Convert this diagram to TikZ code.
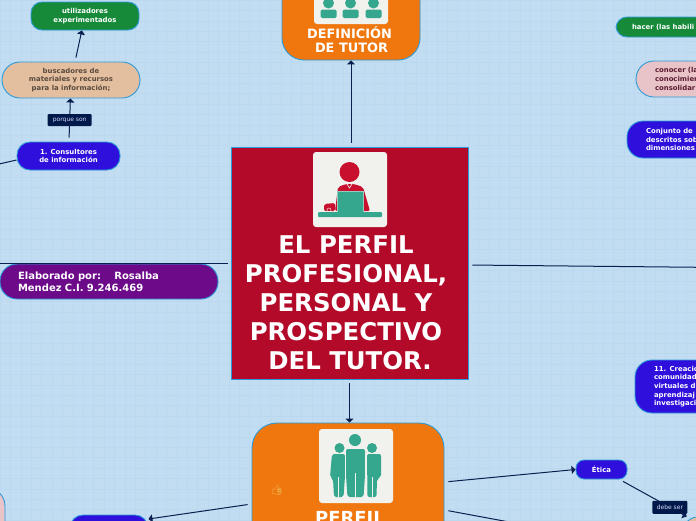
\documentclass[tikz,border=0pt]{standalone}
\usepackage{fontspec}
\setmainfont{DejaVu Sans}
\newfontfamily\emojifont{Noto Emoji}
\usetikzlibrary{arrows.meta}
\definecolor{mmback}{HTML}{C2DDF1}
\definecolor{mmgrid}{HTML}{BBD9EE}
\definecolor{mmedge}{HTML}{2C9AD9}
\definecolor{mmline}{HTML}{0A1F50}
\definecolor{mmlabel}{HTML}{00194A}
\definecolor{mmorange}{HTML}{EF770D}
\definecolor{mmcrimson}{HTML}{B30A2A}
\definecolor{mmgreen}{HTML}{178A3A}
\definecolor{mmblue}{HTML}{2F0FDC}
\definecolor{mmpurple}{HTML}{6C0A8A}
\definecolor{mmsand}{HTML}{E3BFA0}
\definecolor{mmsandtext}{HTML}{5A4A3C}
\definecolor{mmpink}{HTML}{E8C4C8}
\definecolor{mmpinktext}{HTML}{5A1A30}
\definecolor{mmteal}{HTML}{35A78F}
\definecolor{mmtile}{HTML}{F1F1ED}
\definecolor{mmred}{HTML}{C8102E}
\definecolor{mmthumb}{HTML}{F5C060}
\tikzset{
    mm box/.style={draw=mmedge, line width=0.9pt, font=\fontsize{6.9}{8.7}\selectfont\bfseries,
                   inner sep=0pt, text=white, align=center},
    mm main/.style={mm box, fill=mmorange, rounded corners=22pt},
    mm green/.style={mm box, fill=mmgreen, rounded corners=11pt},
    mm blue/.style={mm box, fill=mmblue, rounded corners=13pt},
    mm sand/.style={mm box, fill=mmsand, rounded corners=18pt, text=mmsandtext},
    mm pink/.style={mm box, fill=mmpink, rounded corners=18pt, text=mmpinktext},
    mm link/.style={-{Stealth[inset=0pt, length=4pt, width=8pt]}, mmline, line width=1pt,
                    shorten <=4pt},
    mm plain/.style={mmline, line width=1pt, shorten <=4pt},
    mm label/.style={fill=mmlabel, rounded corners=1pt, text=white!85!blue, inner sep=0pt,
                     minimum width=44pt, minimum height=12pt,
                     font=\fontsize{6}{7}\selectfont},
    mm tile/.style={fill=mmtile, draw=none, rounded corners=3pt},
}
% three standing figures, tile corner at #1
\newcommand{\groupicon}[1]{%
    \begin{scope}[shift={(#1)}]
        \path[mm tile] (0,0) rectangle (74,74);
        \fill[mmteal] (36,11) circle (6);
        \fill[mmteal, rounded corners=2pt] (27,20) -- (46,20) -- (46,46) -- (44.5,68) -- (28.5,68) -- (27,46) -- cycle;
        \fill[mmteal] (20.5,19) circle (5);
        \fill[mmteal, rounded corners=2pt] (13,25) -- (26,25) -- (26,47) -- (24.5,68) -- (15,68) -- (14,50) -- (11,48) -- cycle;
        \fill[mmteal] (53,19) circle (5);
        \fill[mmteal, rounded corners=2pt] (48,25) -- (62,25) -- (62,48) -- (58,50) -- (57.5,68) -- (48.5,68) -- cycle;
        \draw[mmtile, line width=0.7pt] (36.5,44) -- (36.5,68) (19.8,48) -- (19.8,68) (53,48) -- (53,68);
        \draw[mmtile, line width=0.5pt] (26.6,25) -- (26.6,68) (46.6,25) -- (46.6,68);
    \end{scope}}
% three busts, tile corner at #1
\newcommand{\bustsicon}[1]{%
    \begin{scope}[shift={(#1)}]
        \path[mm tile] (0,-30) rectangle (74,24);
        \foreach \bx in {14.5,36.5,59.5} {
            \fill[mmteal] (\bx,3) circle (5.5);
            \fill[mmteal, rounded corners=1.5pt] (\bx-8,18) -- (\bx-8,9.5) -- (\bx+8,9.5) -- (\bx+8,18) -- cycle;
        }
    \end{scope}}
% person behind a laptop, tile corner at #1
\newcommand{\tutoricon}[1]{%
    \begin{scope}[shift={(#1)}]
        \path[mm tile] (0,0) rectangle (74,75);
        \fill[mmred] (36.5,20) circle (10);
        \fill[mmred, rounded corners=2pt] (22,59) -- (25,35) -- (33,32) -- (41,32) -- (50,35) -- (57,59) -- cycle;
        \draw[mmtile, line width=0.6pt] (34,32) -- (36.5,36) -- (39,32);
        \fill[mmred, rounded corners=2pt] (11,59) -- (11,52) -- (22,51) -- (22,59) -- cycle;
        \draw[mmtile, line width=0.5pt] (16,58) circle (2);
        \fill[mmteal, draw=mmtile!50!mmteal, line width=0.5pt] (24,39) rectangle (50,60);
        \fill[mmteal, rounded corners=1pt] (5,60) rectangle (69,65);
    \end{scope}}

\begin{document}
\begin{tikzpicture}[x=1pt, y=-1pt]
    \useasboundingbox (0,0) rectangle (696,520);
    \clip (0,0) rectangle (696,520);
    % Background
    \fill[mmback] (0,0) rectangle (696,520);
    \foreach \gx in {0,10.4,...,696} { \draw[mmgrid, line width=0.4pt] (\gx,0) -- (\gx,520); }
    \foreach \gy in {0,10.4,...,520} { \draw[mmgrid, line width=0.4pt] (0,\gy) -- (696,\gy); }
    % Central topics
    \node[mm box, fill=mmcrimson, minimum width=237pt, minimum height=232pt] (central) at (349.5,263) {};
    \node[mm main, minimum width=138pt, minimum height=100pt] (defin) at (351,10) {};
    \node[mm main, rounded corners=25pt, minimum width=192pt, minimum height=196pt] (perfil) at (348,521) {};
    % Left side
    \node[mm green, minimum width=108pt, minimum height=28pt] (usuarios) at (85,16)
        {utilizadores\\experimentados};
    \node[mm sand, minimum width=138pt, minimum height=36pt] (buscadores) at (71,80)
        {buscadores de\\materiales y recursos\\para la información;};
    \node[mm blue, minimum width=103pt, minimum height=28pt] (consultores) at (68.5,156)
        {1. Consultores\\de información};
    \node[mm box, fill=mmpurple, rounded corners=17pt, minimum width=218pt, minimum height=35pt,
          text width=182pt, align=left, font=\fontsize{10}{12}\selectfont\bfseries] (elaborado) at (109,281.5)
        {Elaborado por:\ \ \ \ Rosalba\\Mendez C.I. 9.246.469};
    \node[mm pink, minimum width=90pt, minimum height=80pt] (rosa) at (-40,528) {};
    \node[mm blue, minimum width=78pt, minimum height=30pt] (azul) at (109,530) {};
    % Right side
    \node[mm green, minimum width=200pt, minimum height=20pt, text width=168pt, align=left] (hacer) at (716,27)
        {hacer (las habili};
    \node[mm pink, minimum width=200pt, minimum height=36pt, text width=162pt, align=left] (conocer) at (736,79)
        {conocer (la\\conocimien\\consolidar};
    \node[mm blue, rounded corners=16pt, minimum width=200pt, minimum height=37pt, text width=162pt, align=left] (conjunto) at (727,139.5)
        {Conjunto de\\descritos sob\\dimensiones};
    \node[mm blue, rounded corners=17pt, minimum width=200pt, minimum height=53pt, text width=162pt, align=left] (creacion) at (735,386.5)
        {11. Creació\\comunidad\\virtuales d\\aprendizaj\\investigaci};
    \node[mm blue, rounded corners=8pt, minimum width=51pt, minimum height=19pt] (etica) at (601.5,469.5) {Ética};
    \node[mm sand, rounded corners=15pt, minimum width=114pt, minimum height=58pt] (beige) at (740,546) {};
    % Icons
    \bustsicon{314,0}
    \tutoricon{313,152}
    \groupicon{319,429}
    % Titles
    \node[text=white, font=\fontsize{12.9}{14}\selectfont\bfseries, align=center, inner sep=0pt] (defintext) at (349.5,39.5)
        {DEFINICIÓN\\\hspace*{4pt}DE TUTOR};
    \node[text=white, font=\fontsize{24.4}{29}\selectfont\bfseries, align=center, inner sep=0pt] (maintext) at (346,303)
        {EL PERFIL\\PROFESIONAL,\\PERSONAL Y\\PROSPECTIVO\\\hspace*{8pt}DEL TUTOR.};
    \node[text=white, font=\fontsize{18}{22}\selectfont\bfseries, inner sep=0pt] (perfiltext) at (350,518) {PERFIL};
    \node[text=mmthumb, font=\fontsize{10}{10}\emojifont, inner sep=0pt] (pulgar) at (277,490) {👍};
    % Free ends
    \coordinate (leftend) at (-2,263);
    \coordinate (rightend) at (700,267.3);
    \coordinate (consend) at (-3,164.5);
    \coordinate (perfend) at (520,524);
    % Connectors
    \draw[mm link] (central.north -| defin.south) -- (defin.south);
    \draw[mm link] (central.south) -- (central.south |- perfil.north);
    \draw[mm plain, shorten <=3pt] (central.west) -- (leftend);
    \draw[mm plain] ([yshift=-2pt]central.east) -- (rightend);
    \draw[mm plain, shorten <=0pt] ([yshift=-4pt]consultores.west) -- (consend);
    \draw[mm link] (consultores) -- node[mm label] (porque) {porque son} (buscadores);
    \draw[mm link] (buscadores) -- (usuarios);
    \draw[mm link] ([yshift=39pt]perfil.east) -- (etica.west);
    \draw[mm plain] ([yshift=11pt]perfil.east) -- (perfend);
    \draw[mm link] ([yshift=17pt]perfil.west) -- ([yshift=11pt]azul.east);
    \draw[mm link] (etica) -- node[mm label, pos=0.75, minimum width=35pt, minimum height=13pt] (debe) {debe ser} (beige);
\end{tikzpicture}
\end{document}
